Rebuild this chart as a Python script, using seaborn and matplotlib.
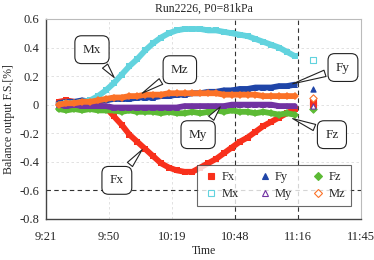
import matplotlib
matplotlib.use("Agg")
import matplotlib.pyplot as plt
from matplotlib.lines import Line2D
import seaborn as sns
import pandas as pd

# time as fraction of a day (Excel style)
t = [0.394, 0.3965, 0.399, 0.4015, 0.404, 0.4065, 0.409, 0.4115, 0.414, 0.4165,
     0.419, 0.4215, 0.424, 0.4265, 0.429, 0.4315, 0.434, 0.4365, 0.439, 0.4415,
     0.444, 0.4465, 0.449, 0.4515, 0.454, 0.4565, 0.459, 0.4615, 0.464, 0.4665, 0.469]

fx = [0.02, 0.03, 0.02, 0.01, 0.01, 0.00, -0.02, -0.08, -0.14, -0.21,
      -0.26, -0.31, -0.36, -0.41, -0.44, -0.46, -0.47, -0.47, -0.44, -0.41,
      -0.38, -0.34, -0.30, -0.26, -0.23, -0.19, -0.15, -0.12, -0.09, -0.06, -0.03]
fy = [0.01, 0.02, 0.02, 0.03, 0.02, 0.03, 0.03, 0.04, 0.04, 0.04,
      0.05, 0.05, 0.05, 0.06, 0.06, 0.07, 0.07, 0.08, 0.08, 0.09,
      0.09, 0.10, 0.10, 0.11, 0.11, 0.12, 0.12, 0.12, 0.13, 0.13, 0.14]
fz = [-0.03, -0.04, -0.03, -0.04, -0.03, -0.04, -0.04, -0.04, -0.05, -0.04,
      -0.05, -0.05, -0.05, -0.06, -0.05, -0.06, -0.06, -0.05, -0.06, -0.05,
      -0.04, -0.05, -0.04, -0.05, -0.05, -0.06, -0.05, -0.06, -0.07, -0.06, -0.07]
mx = [0.00, 0.01, 0.01, 0.02, 0.03, 0.06, 0.10, 0.15, 0.21, 0.27,
      0.32, 0.38, 0.43, 0.47, 0.50, 0.52, 0.53, 0.53, 0.53, 0.52,
      0.52, 0.51, 0.50, 0.49, 0.48, 0.46, 0.44, 0.42, 0.40, 0.37, 0.34]
my = [0.00, -0.01, 0.00, -0.01, -0.01, -0.01, -0.01, -0.02, -0.02, -0.02,
      -0.02, -0.02, -0.02, -0.02, -0.02, -0.02, -0.01, -0.01, -0.01, -0.01,
      -0.01, -0.01, 0.00, 0.00, 0.00, 0.00, 0.00, 0.00, -0.01, -0.01, -0.01]
mz = [0.00, 0.01, 0.01, 0.02, 0.02, 0.03, 0.04, 0.05, 0.05, 0.06,
      0.06, 0.07, 0.07, 0.07, 0.08, 0.08, 0.08, 0.08, 0.08, 0.08,
      0.08, 0.07, 0.07, 0.07, 0.07, 0.07, 0.06, 0.06, 0.06, 0.06, 0.06]

# the few isolated points after the run
t_end = 0.4748
end_vals = {"Fx": [0.02, 0.00], "Fy": [0.11], "Fz": [-0.03],
            "Mx": [0.31], "My": [-0.01], "Mz": [0.05]}

names = ["Fx", "Fy", "Fz", "Mx", "My", "Mz"]
series = [fx, fy, fz, mx, my, mz]
colors = ["#f8301c", "#1f45a8", "#5cba35", "#62d3de", "#7132a2", "#fb7228"]
markers = ["s", "^", "D", "s", "^", "D"]
filled = [True, True, True, False, False, False]

sns.set_style("white")
plt.rcParams["font.family"] = ["Liberation Serif", "DejaVu Serif"]

fig = plt.figure(figsize=(3.74, 2.60), dpi=100)
ax = fig.add_axes([0.123, 0.158, 0.842, 0.769])

for name, vals, c, m in zip(names, series, colors, markers):
    df = pd.DataFrame({"t": t, "v": vals})
    sns.lineplot(data=df, x="t", y="v", color=c, lw=4.2, ax=ax, legend=False,
                 marker=m, markersize=4, markeredgewidth=0, zorder=3)

for name, c, m, f in zip(names, colors, markers, filled):
    vals = end_vals[name]
    ax.scatter([t_end] * len(vals), vals, marker=m, s=14,
               facecolor=c if f else "white", edgecolor=c, lw=0.8, zorder=4)

ax.set_xlim(0.39, 0.49)
ax.set_ylim(-0.8, 0.6)
xt = [0.39, 0.41, 0.43, 0.45, 0.47, 0.49]
ax.set_xticks(xt)


def hm(d):
    mins = int(d * 24 * 60 + 1e-6)
    return f"{mins // 60}:{mins % 60:02d}"


ax.set_xticklabels([hm(v) for v in xt])
ax.set_yticks([-0.8, -0.6, -0.4, -0.2, 0, 0.2, 0.4, 0.6])
ax.set_yticklabels(["-0.8", "-0.6", "-0.4", "-0.2", "0", "0.2", "0.4", "0.6"])
ax.set_yticks([i * 0.05 - 0.8 for i in range(29)], minor=True)
ax.tick_params(axis="both", which="major", labelsize=9, direction="in",
               length=4, width=0.8, color="#333333")
ax.tick_params(axis="y", which="minor", direction="in", length=2, width=0.6,
               color="#333333")
ax.tick_params(axis="y", which="major", pad=5)
ax.tick_params(axis="x", which="major", pad=9)

for y in [-0.4, -0.2, 0, 0.2, 0.4]:
    ax.axhline(y, color="#dddddd", lw=0.6, ls=(0, (3, 3)), zorder=1)
for x in [0.41, 0.43]:
    ax.axvline(x, color="#dddddd", lw=0.6, ls=(0, (3, 3)), zorder=1)
ax.axhline(-0.6, color="#333333", lw=0.8, ls=(0, (4, 3)), zorder=2)
for x in [0.45, 0.47]:
    ax.axvline(x, color="#333333", lw=0.8, ls=(0, (4, 3)), zorder=2)

for side in ["left", "bottom"]:
    ax.spines[side].set_color("#444444")
    ax.spines[side].set_linewidth(1.0)
for side in ["top", "right"]:
    ax.spines[side].set_color("#bbbbbb")
    ax.spines[side].set_linewidth(0.8)

ax.set_title("Run2226, P0=81kPa", fontsize=8.5, pad=5)
ax.set_xlabel("Time", fontsize=8.5, labelpad=1)
ax.set_ylabel("Balance output F.S.[%]", fontsize=8.5, labelpad=3)

# callouts
callouts = [("Mx", 0.4046, 0.385, 0.4122, 0.175),
            ("Mz", 0.4325, 0.245, 0.4198, 0.07),
            ("Fy", 0.4843, 0.26, 0.4675, 0.14),
            ("My", 0.4383, -0.21, 0.4459, 0.0),
            ("Fz", 0.4808, -0.21, 0.4675, -0.09),
            ("Fx", 0.4125, -0.53, 0.4211, -0.30)]
for txt, bx, by, px, py in callouts:
    ax.annotate(txt, xy=(px, py), xytext=(bx, by), fontsize=9.5,
                ha="center", va="center", zorder=6,
                bbox=dict(boxstyle="round,pad=0.6,rounding_size=0.5",
                          fc="white", ec="#222222", lw=0.8),
                arrowprops=dict(arrowstyle="wedge,tail_width=0.5,shrink_factor=0.5",
                                fc="white", ec="#222222", lw=0.8))

handles = {}
for name, c, m, f in zip(names, colors, markers, filled):
    handles[name] = Line2D([], [], ls="none", marker=m, markersize=4,
                           markerfacecolor=c if f else "white",
                           markeredgecolor=c, markeredgewidth=0.8, label=name)
order = ["Fx", "Mx", "Fy", "My", "Fz", "Mz"]
leg = ax.legend(handles=[handles[n] for n in order], ncol=3, loc="lower right",
                bbox_to_anchor=(0.988, 0.035), fontsize=9, frameon=True,
                fancybox=False, edgecolor="#444444", handletextpad=0.2,
                columnspacing=1.4, borderpad=0.45, labelspacing=0.4,
                handlelength=1.3)
leg.get_frame().set_linewidth(0.8)
leg.set_zorder(7)

fig.savefig("out.png", dpi=100)
